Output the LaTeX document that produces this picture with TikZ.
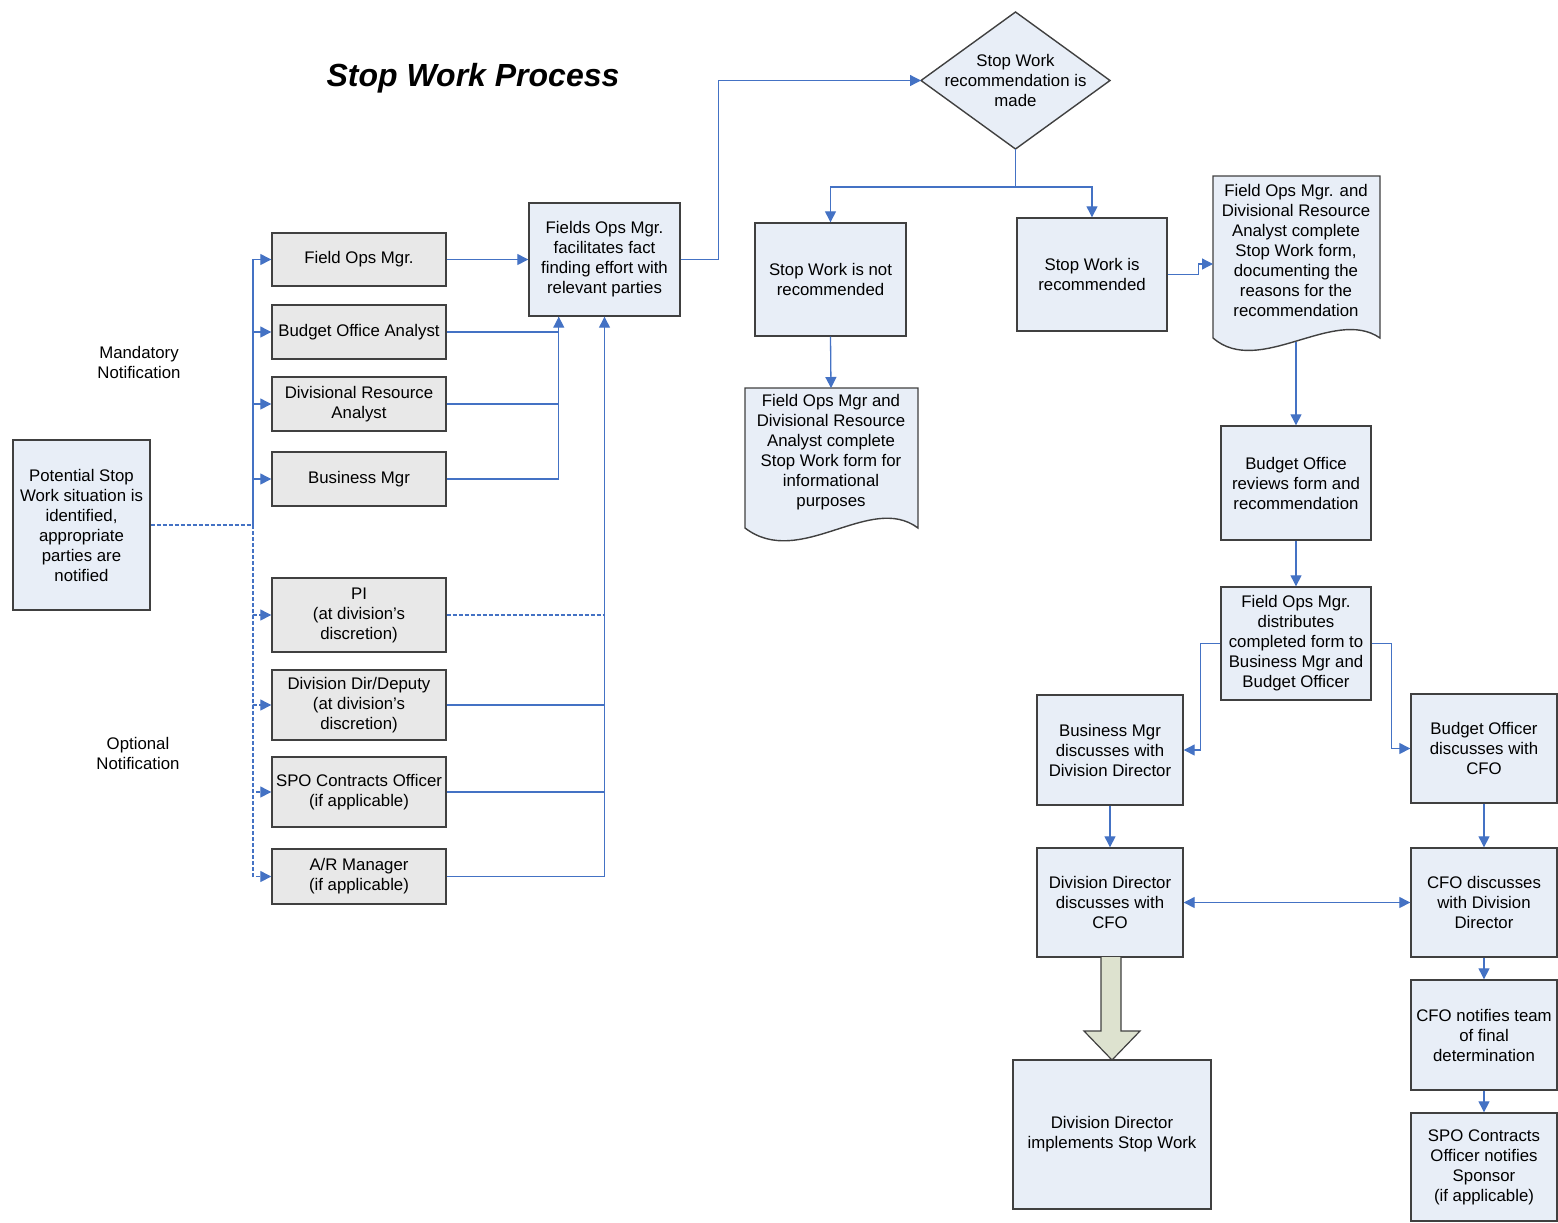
\documentclass[tikz,border=0pt]{standalone}
\usepackage{fontspec}
\setmainfont{Liberation Sans}
\usetikzlibrary{arrows.meta,shapes.geometric,calc}
\definecolor{lb}{HTML}{E8EEF7}
\definecolor{lg}{HTML}{E8E8E8}
\definecolor{cb}{HTML}{4472C4}
\definecolor{bd}{HTML}{404040}
\definecolor{ag}{HTML}{DDE2CF}
\begin{document}
\begin{tikzpicture}[x=0.5pt,y=-0.5pt,font=\fontsize{8.4}{10}\selectfont,
  box/.style={draw=bd, line width=0.7pt, inner sep=0pt, align=center},
  bbox/.style={box, fill=lb},
  gbox/.style={box, fill=lg},
  conn/.style={draw=cb, line width=0.65pt},
  arr/.style={conn, -{Triangle[length=5.5pt,width=5.5pt]}},
  opt/.style={dash pattern=on 2pt off 1pt},
  lbl/.style={align=center, inner sep=0pt}]
\useasboundingbox (0,0) rectangle (1558,1222);

\node[lbl, font=\fontsize{16}{19}\selectfont\bfseries\itshape] (title) at (473,78) {Stop Work Process};

\node[bbox, minimum width=68.5pt, minimum height=85pt] (pot) at (81.5,525) {Potential Stop\\Work situation is\\identified,\\appropriate\\parties are\\notified};

\node[gbox, minimum width=87pt, minimum height=26.5pt] (fom) at (359,259.5) {Field Ops Mgr.};
\node[gbox, minimum width=87pt, minimum height=27pt] (boa) at (359,332) {Budget Office Analyst};
\node[gbox, minimum width=87pt, minimum height=27pt] (dra) at (359,404) {Divisional Resource\\Analyst};
\node[gbox, minimum width=87pt, minimum height=27pt] (bmg) at (359,479) {Business Mgr};
\node[gbox, minimum width=87pt, minimum height=37pt] (pi) at (359,615) {PI\\(at division’s\\discretion)};
\node[gbox, minimum width=87pt, minimum height=35pt] (ddd) at (359,705) {Division Dir/Deputy\\(at division’s\\discretion)};
\node[gbox, minimum width=87pt, minimum height=35pt] (spo) at (359,792) {SPO Contracts Officer\\(if applicable)};
\node[gbox, minimum width=87pt, minimum height=27.5pt] (arm) at (359,876.5) {A/R Manager\\(if applicable)};

\node[lbl] (mand) at (139,362) {Mandatory\\Notification};
\node[lbl] (optl) at (138,753) {Optional\\Notification};

\node[bbox, minimum width=75.5pt, minimum height=56.5pt] (fields) at (604.5,259.5) {Fields Ops Mgr.\\facilitates fact\\finding effort with\\relevant parties};

% diamond
\draw[draw=bd, line width=0.7pt, fill=lb] (921,80.5) -- (1015.5,12) -- (1110,80.5) -- (1015.5,149) -- cycle;
\coordinate (diaW) at (921,80.5);
\coordinate (diaS) at (1015.5,149);
\node[lbl] (dia) at (1015.5,80.5) {Stop Work\\recommendation is\\made};

\node[bbox, minimum width=75.5pt, minimum height=56.5pt] (notrec) at (830.5,279.5) {Stop Work is not\\recommended};
\node[bbox, minimum width=75pt, minimum height=56.5pt] (rec) at (1092,274.5) {Stop Work is\\recommended};

% documents
\draw[draw=bd, line width=0.7pt, fill=lb] (745,388) -- (918,388) -- (918,528) .. controls (870,492) and (800,570) .. (745,528) -- cycle;
\coordinate (d1n) at (831,388);
\node[lbl] (doc1) at (831,452) {Field Ops Mgr and\\Divisional Resource\\Analyst complete\\Stop Work form for\\informational\\purposes};

\draw[draw=bd, line width=0.7pt, fill=lb] (1213,176) -- (1380,176) -- (1380,338) .. controls (1334,306) and (1259,378) .. (1213,338) -- cycle;
\coordinate (d2w) at (1213,264);
\coordinate (d2b) at (1296,342);
\node[lbl] (doc2) at (1296,250.5) {Field Ops Mgr. and\\Divisional Resource\\Analyst complete\\Stop Work form,\\documenting the\\reasons for the\\recommendation};

\node[bbox, minimum width=75pt, minimum height=57pt] (bor) at (1296,483) {Budget Office\\reviews form and\\recommendation};
\node[bbox, minimum width=75pt, minimum height=56.5pt] (fomd) at (1296,643.5) {Field Ops Mgr.\\distributes\\completed form to\\Business Mgr and\\Budget Officer};
\node[bbox, minimum width=73pt, minimum height=55pt] (bmd) at (1110,750) {Business Mgr\\discusses with\\Division Director};
\node[bbox, minimum width=73pt, minimum height=54.5pt] (bod) at (1484,748.5) {Budget Officer\\discusses with\\CFO};
\node[bbox, minimum width=73pt, minimum height=54.5pt] (dddisc) at (1110,902.5) {Division Director\\discusses with\\CFO};
\node[bbox, minimum width=73pt, minimum height=54.5pt] (cfod) at (1484,902.5) {CFO discusses\\with Division\\Director};
\node[bbox, minimum width=73pt, minimum height=55pt] (cfon) at (1484,1035) {CFO notifies team\\of final\\determination};
\node[bbox, minimum width=73pt, minimum height=54pt] (spon) at (1484,1167) {SPO Contracts\\Officer notifies\\Sponsor\\(if applicable)};
\node[bbox, minimum width=99pt, minimum height=74.5pt] (ddi) at (1112,1134.5) {Division Director\\implements Stop Work};

% block arrow
\draw[draw=bd, line width=0.6pt, fill=ag] (1101,957) -- (1101,1031) -- (1084,1031) -- (1112,1060) -- (1140,1031) -- (1121,1031) -- (1121,957);

% left connectors
\coordinate (trk) at (253,525);
\draw[conn, opt] (pot.east) -- (trk);
\draw[arr] (trk) |- (fom.west);
\draw[arr] (trk) |- (boa.west);
\draw[arr] (trk) |- (dra.west);
\draw[arr] (trk) |- (bmg.west);
\draw[arr, opt] (trk) |- (pi.west);
\draw[arr, opt] (trk) |- (ddd.west);
\draw[arr, opt] (trk) |- (spo.west);
\draw[arr, opt] (trk) |- (arm.west);

\coordinate (fA) at ($(fields.south west)!0.2!(fields.south east)$);
\draw[arr] (fom.east) -- (fields.west);
\draw[arr] (boa.east) -| (fA);
\draw[conn] (dra.east) -| (fA);
\draw[conn] (bmg.east) -| (fA);
\draw[conn, opt] (pi.east) -| (fields.south);
\draw[conn] (ddd.east) -| (fields.south);
\draw[conn] (spo.east) -| (fields.south);
\draw[arr] (arm.east) -| (fields.south);

\draw[arr] (fields.east) -- ++(38,0) |- (diaW);
\draw[arr] (diaS) -- ++(0,38) -| (notrec.north);
\draw[arr] (diaS) -- ++(0,38) -| (rec.north);
\draw[arr] (notrec.south) -- (d1n);
\draw[arr] (rec.east) -- ++(31,0) |- (d2w);
\draw[arr] (d2b) -- (bor.north);
\draw[arr] (bor.south) -- (fomd.north);
\draw[arr] (fomd.west) -- ++(-20,0) |- (bmd.east);
\draw[arr] (fomd.east) -- ++(20,0) |- (bod.west);
\draw[arr] (bmd.south) -- (dddisc.north);
\draw[arr] (bod.south) -- (cfod.north);
\draw[conn, {Triangle[length=5.5pt,width=5.5pt]}-{Triangle[length=5.5pt,width=5.5pt]}] (dddisc.east) -- (cfod.west);
\draw[arr] (cfod.south) -- (cfon.north);
\draw[arr] (cfon.south) -- (spon.north);
\end{tikzpicture}
\end{document}
